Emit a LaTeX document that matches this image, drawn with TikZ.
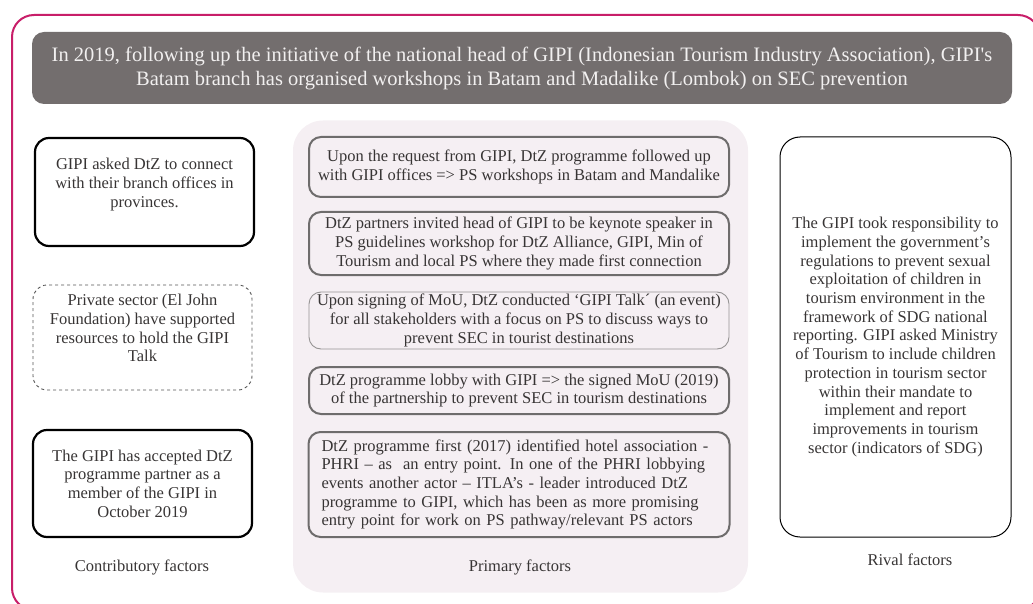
\documentclass[tikz,border=0pt]{standalone}
\usepackage{fontspec}
\setmainfont{Liberation Serif}

\definecolor{framemagenta}{RGB}{200,30,105}
\definecolor{titlegray}{RGB}{115,110,110}
\definecolor{titletext}{RGB}{242,240,240}
\definecolor{panelpink}{RGB}{245,239,243}
\definecolor{primaryedge}{RGB}{110,108,108}
\definecolor{lightedge}{RGB}{150,148,148}
\definecolor{dashedge}{RGB}{85,85,85}
\definecolor{textgray}{RGB}{55,52,52}

\newcommand{\factorfont}{\fontsize{16.5}{18.7}\selectfont}
\newcommand{\headfont}{\fontsize{20.5}{24}\selectfont}

\tikzset{every picture/.style={line width=0.75pt}}
\tikzset{
  headbox/.style={fill=titlegray, rounded corners=12pt, minimum width=980pt, minimum height=72pt, align=center, text=titletext, font=\headfont, inner sep=0pt},
  panelbox/.style={fill=panelpink, rounded corners=30pt, minimum width=455pt, minimum height=472pt, inner sep=0pt},
  contribbox/.style={draw=black, line width=2.2pt, rounded corners=14pt, minimum width=219pt, align=center, text=textgray, font=\factorfont, inner sep=0pt},
  maybebox/.style={contribbox, draw=dashedge, line width=0.9pt, dashed},
  primarybox/.style={draw=primaryedge, line width=2pt, rounded corners=12pt, minimum width=420pt, align=center, text=textgray, font=\factorfont, inner sep=0pt},
  softbox/.style={primarybox, draw=lightedge, line width=0.9pt},
  rivalbox/.style={draw=black, line width=1pt, rounded corners=20pt, minimum width=231pt, minimum height=400pt, align=center, text=textgray, font=\factorfont, inner sep=0pt},
  caption/.style={text=textgray, font=\factorfont, inner sep=0.75pt}
}

\begin{document}
\begin{tikzpicture}[x=1pt,y=1pt,yscale=-1,xscale=1]
\useasboundingbox (0,0) rectangle (1033,604);

%Shape: Frame
\draw [color=framemagenta, line width=2pt, rounded corners=22pt] (12,15) rectangle (1040,610);
%Shape: Title
\node [headbox] (head) at (522,68) {In 2019, following up the initiative of the national head of GIPI (Indonesian Tourism Industry Association), GIPI\textquotesingle s\\Batam branch has organised workshops in Batam and Madalike (Lombok) on SEC prevention};
%Shape: Panel
\node [panelbox] (panel) at (520.5,356.5) {};

%Contributory
\node [contribbox, minimum height=108pt] (askbranch) at (144.5,192) {GIPI asked DtZ to connect\\with their branch offices in\\provinces.\\ \mbox{}};
\node [maybebox, minimum height=105pt] (eljohn) at (142.5,337.5) {Private sector (El John\\Foundation) have supported\\resources to hold the GIPI\\Talk\\ \mbox{}};
\node [contribbox, minimum height=107pt] (member) at (142.5,483.5) {The GIPI has accepted DtZ\\programme partner as a\\member of the GIPI in\\October 2019};

%Primary
\node [primarybox, minimum height=60pt] (request) at (519,167) {Upon the request from GIPI, DtZ programme followed up\\with GIPI offices => PS workshops in Batam and Mandalike};
\node [primarybox, minimum height=63pt] (keynote) at (519,243.5) {DtZ partners invited head of GIPI to be keynote speaker in\\PS guidelines workshop for DtZ Alliance, GIPI, Min of\\Tourism and local PS where they made first connection};
\node [softbox, minimum height=57pt] (talk) at (519,320.5) {Upon signing of MoU, DtZ conducted ‘GIPI Talk´ (an event)\\for all stakeholders with a focus on PS to discuss ways to\\prevent SEC in tourist destinations};
\node [primarybox, minimum height=47pt] (mou) at (519,390.5) {DtZ programme lobby with GIPI => the signed MoU (2019)\\of the partnership to prevent SEC in tourism destinations};
\node [primarybox, minimum height=105pt, text width=395pt, align=left, inner xsep=13pt] (phri) at (519,484.5) {DtZ programme first (2017) identified hotel association -\\PHRI -- as\ \ an entry point. In one of the PHRI lobbying\\events another actor -- ITLA’s - leader introduced DtZ\\programme to GIPI, which has been as more promising\\entry point for work on PS pathway/relevant PS actors};

%Rival
\node [rivalbox] (rival) at (895.5,337) {The GIPI took responsibility to\\implement the government’s\\regulations to prevent sexual\\exploitation of children in\\tourism environment in the\\framework of SDG national\\reporting. GIPI asked Ministry\\of Tourism to include children\\protection in tourism sector\\within their mandate to\\implement and report\\improvements in tourism\\sector (indicators of SDG)};

% Text Node
\node [caption] (contriblabel) at (142,567) {Contributory factors};
% Text Node
\node [caption] (primarylabel) at (520,567) {Primary factors};
% Text Node
\node [caption] (rivallabel) at (910,560) {Rival factors};
\end{tikzpicture}
\end{document}
